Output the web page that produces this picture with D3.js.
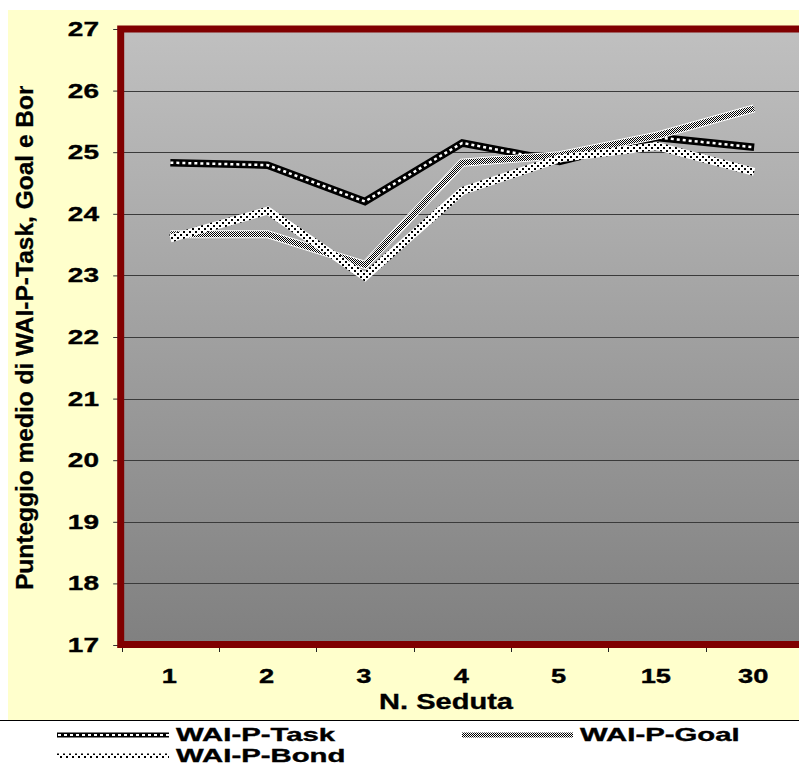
<!DOCTYPE html>
<html>
<head>
<meta charset="utf-8">
<script src="https://cdn.jsdelivr.net/npm/d3@7"></script>
<style>
  body { margin: 0; background: #fff; }
  svg { display: block; }
</style>
</head>
<body>
<svg id="chart" width="799" height="766"></svg>
<script>
// data
const sessions = ["1", "2", "3", "4", "5", "15", "30"];
const taskValues = [24.83, 24.79, 24.2, 25.15, 24.85, 25.24, 25.08];
const goalValues = [23.67, 23.67, 23.17, 24.83, 24.95, 25.27, 25.71];
const bondValues = [23.6, 24.05, 22.98, 24.37, 24.9, 25.1, 24.68];
const yTicks = [17, 18, 19, 20, 21, 22, 23, 24, 25, 26, 27];
const seriesNames = ["WAI-P-Task", "WAI-P-Goal", "WAI-P-Bond"];

const font = "'Liberation Sans', Arial, sans-serif";
const svg = d3.select("#chart");
const defs = svg.append("defs");

// plot background gradient
const grad = defs.append("linearGradient")
  .attr("id", "plotBg").attr("x1", 0).attr("y1", 0).attr("x2", 0).attr("y2", 1);
grad.append("stop").attr("offset", "0%").attr("stop-color", "#c0c0c0");
grad.append("stop").attr("offset", "100%").attr("stop-color", "#808080");

// fill textures for the lines
const checker = defs.append("pattern")
  .attr("id", "checker").attr("patternUnits", "userSpaceOnUse")
  .attr("width", 2).attr("height", 2);
checker.append("rect").attr("width", 2).attr("height", 2).attr("fill", "#fff");
checker.append("rect").attr("width", 1).attr("height", 1).attr("fill", "#000");
checker.append("rect").attr("x", 1).attr("y", 1).attr("width", 1).attr("height", 1).attr("fill", "#000");

const dots = defs.append("pattern")
  .attr("id", "dots").attr("patternUnits", "userSpaceOnUse")
  .attr("width", 6).attr("height", 6);
dots.append("rect").attr("width", 6).attr("height", 6).attr("fill", "#fff");
dots.append("rect").attr("width", 2).attr("height", 2).attr("fill", "#000");
dots.append("rect").attr("x", 3).attr("y", 3).attr("width", 2).attr("height", 2).attr("fill", "#000");

// cream chart area
svg.append("rect")
  .attr("x", 8).attr("y", 10).attr("width", 791).attr("height", 710)
  .attr("fill", "#ffffcc");

const x = d3.scaleBand().domain(sessions).range([121.7, 802.8]);
const y = d3.scaleLinear().domain([17, 27]).range([645, 29]);

// plot area
svg.append("rect")
  .attr("x", x.range()[0] - 1).attr("y", y(27))
  .attr("width", x.range()[1] - x.range()[0] + 1)
  .attr("height", y(17) - y(27))
  .attr("fill", "url(#plotBg)");

svg.append("g")
  .selectAll("line")
  .data(yTicks.slice(1, -1))
  .join("line")
  .attr("x1", x.range()[0]).attr("x2", x.range()[1])
  .attr("y1", (d) => Math.round(y(d)) + 0.5)
  .attr("y2", (d) => Math.round(y(d)) + 0.5)
  .attr("stroke", "#3a3a3a")
  .attr("stroke-width", 1);

// stretched text helper (the original text is wide and heavy)
function wideText(parent, tx, ty, str, size, sx, anchor) {
  return parent.append("text")
    .attr("transform", `translate(${tx},${ty}) scale(${sx},1)`)
    .attr("text-anchor", anchor)
    .attr("font-family", font)
    .attr("font-weight", "bold")
    .attr("font-size", size)
    .attr("fill", "#000")
    .attr("stroke", "#000")
    .attr("stroke-width", 0.35)
    .text(str);
}

// y axis
const yAxis = svg.append("g")
  .attr("transform", `translate(${x.range()[0] - 0.5},0)`)
  .call(d3.axisLeft(y).tickValues(yTicks).tickSize(8).tickFormat(""));
yAxis.select(".domain").remove();
yAxis.selectAll(".tick line").attr("stroke", "#333");
yTicks.forEach((t) => wideText(svg, 99, y(t) + 7, String(t), 20, 1.4, "end"));

// x axis ticks at band edges
const xEdges = sessions.map((s) => x(s));
svg.append("g")
  .selectAll("line")
  .data(xEdges)
  .join("line")
  .attr("x1", (d) => Math.round(d) + 0.5).attr("x2", (d) => Math.round(d) + 0.5)
  .attr("y1", y(17)).attr("y2", y(17) + 7)
  .attr("stroke", "#222");
sessions.forEach((s) => wideText(svg, x(s) + x.bandwidth() / 2 - 1, 683, s, 19.5, 1.4, "middle"));

// plot border
svg.append("rect")
  .attr("x", x.range()[0] - 1).attr("y", y(27))
  .attr("width", x.range()[1] - x.range()[0] + 1)
  .attr("height", y(17) - y(27) - 0.5)
  .attr("fill", "none")
  .attr("stroke", "#800000")
  .attr("stroke-width", 7);

// series lines
const line = d3.line()
  .x((d, i) => x(sessions[i]) + x.bandwidth() / 2)
  .y((d) => y(d));

const g = svg.append("g").attr("stroke-linejoin", "miter").attr("fill", "none");
g.append("path").datum(taskValues).attr("d", line)
  .attr("stroke", "#000").attr("stroke-width", 7.5);
g.append("path").datum(taskValues).attr("d", line)
  .attr("stroke", "#fff").attr("stroke-width", 2.5).attr("stroke-dasharray", "3,3");

g.append("path").datum(goalValues).attr("d", line)
  .attr("stroke", "#fff").attr("stroke-width", 8);
g.append("path").datum(goalValues).attr("d", line)
  .attr("stroke", "url(#checker)").attr("stroke-width", 6);

g.append("path").datum(bondValues).attr("d", line)
  .attr("stroke", "url(#dots)").attr("stroke-width", 8);

// axis titles
wideText(svg, 446, 709, "N. Seduta", 22, 1.32, "middle");

const clip = defs.append("clipPath").attr("id", "titleClip");
clip.append("rect").attr("x", 0).attr("y", 86).attr("width", 60).attr("height", 600);
svg.append("g").attr("clip-path", "url(#titleClip)")
  .append("text")
  .attr("transform", "translate(33,590) rotate(-90)")
  .attr("font-family", font)
  .attr("font-weight", "bold")
  .attr("font-size", 24.5)
  .attr("stroke", "#000")
  .attr("stroke-width", 0.3)
  .text("Punteggio medio di WAI-P-Task, Goal e Bond");

// legend
svg.append("line")
  .attr("x1", 0).attr("x2", 799).attr("y1", 720.5).attr("y2", 720.5)
  .attr("stroke", "#000");

const legendItems = [
  { name: seriesNames[0], x0: 57, x1: 169, ty: 741, ly: 735 },
  { name: seriesNames[1], x0: 462, x1: 573, ty: 741, ly: 735 },
  { name: seriesNames[2], x0: 57, x1: 169, ty: 762, ly: 756 },
];
legendItems.forEach((it, i) => {
  if (i === 0) {
    svg.append("line").attr("x1", it.x0).attr("x2", it.x1).attr("y1", it.ly).attr("y2", it.ly)
      .attr("stroke", "#000").attr("stroke-width", 5);
    svg.append("line").attr("x1", it.x0 + 1).attr("x2", it.x1).attr("y1", it.ly).attr("y2", it.ly)
      .attr("stroke", "#fff").attr("stroke-width", 2).attr("stroke-dasharray", "3,3");
  } else if (i === 1) {
    svg.append("line").attr("x1", it.x0).attr("x2", it.x1).attr("y1", it.ly).attr("y2", it.ly)
      .attr("stroke", "url(#checker)").attr("stroke-width", 5);
  } else {
    svg.append("line").attr("x1", it.x0).attr("x2", it.x1).attr("y1", it.ly).attr("y2", it.ly)
      .attr("stroke", "url(#dots)").attr("stroke-width", 5);
  }
  wideText(svg, it.x1 + 7, it.ty, it.name, 18, 1.63, "start");
});
</script>
</body>
</html>
